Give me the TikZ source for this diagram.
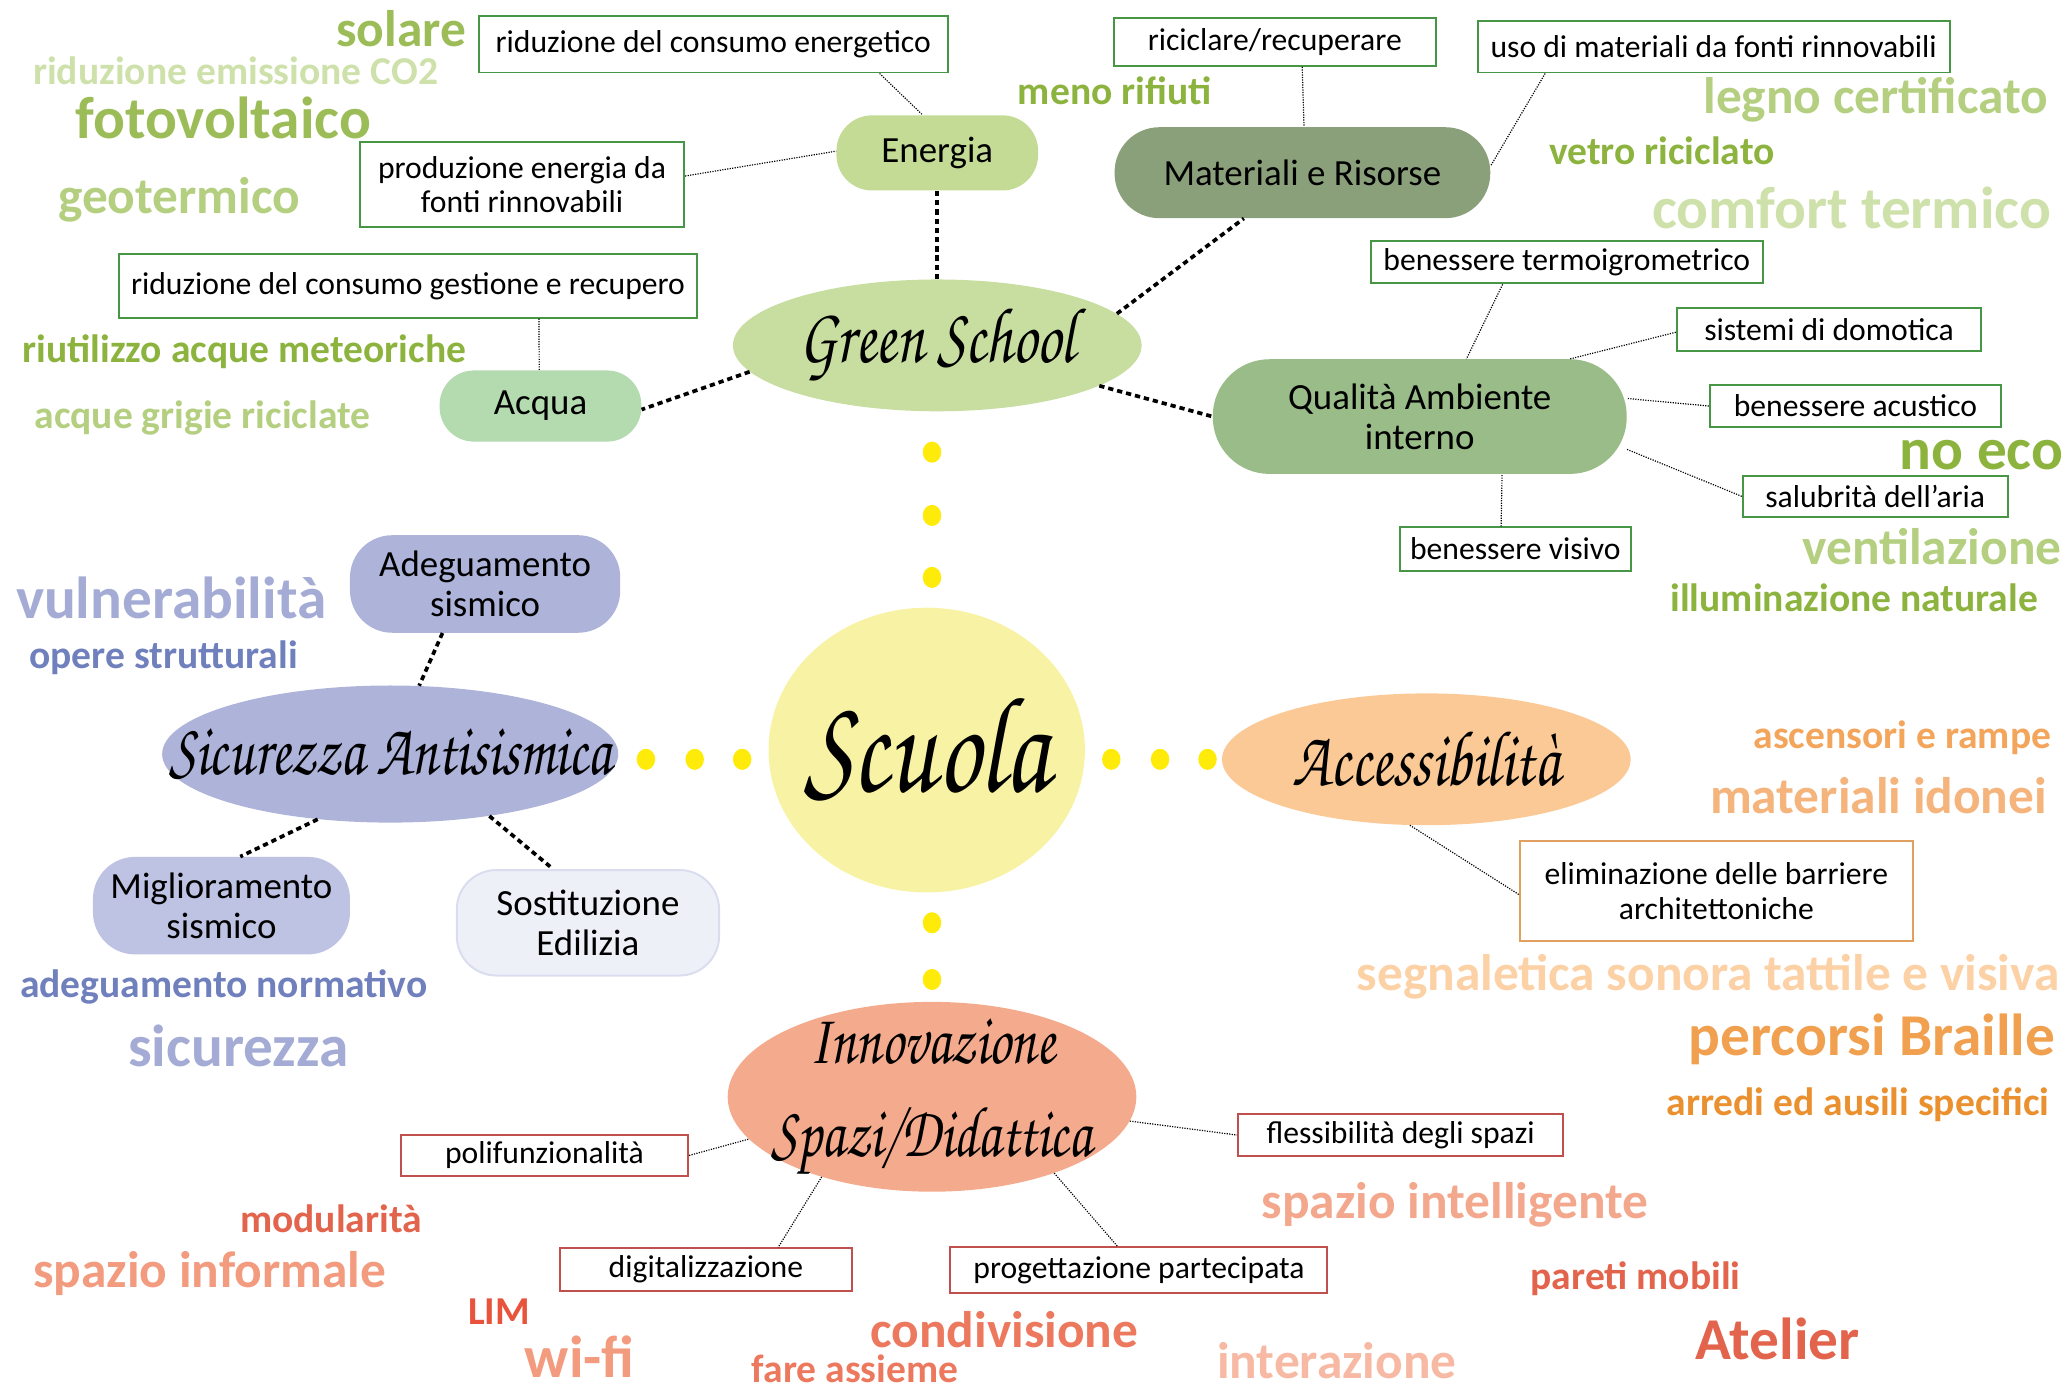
\documentclass[tikz,border=0pt]{standalone}
\usepackage{fontspec}
\setmainfont{Carlito}
\newfontfamily\handfont{TeX Gyre Chorus}
\usepackage{xcolor}
\usepackage{tikz}
\usetikzlibrary{shapes}

\definecolor{boxGreen}{RGB}{70,150,70}
\definecolor{boxOrange}{RGB}{224,160,96}
\definecolor{boxRed}{RGB}{192,80,77}
\definecolor{fillGreenSchool}{RGB}{200,221,160}
\definecolor{fillEnergia}{RGB}{196,219,150}
\definecolor{fillAcqua}{RGB}{180,218,175}
\definecolor{fillMateriali}{RGB}{138,160,122}
\definecolor{fillQualita}{RGB}{153,188,136}
\definecolor{fillScuola}{RGB}{248,243,164}
\definecolor{dotYellow}{RGB}{255,235,10}
\definecolor{fillSicurezza}{RGB}{173,179,217}
\definecolor{fillMiglior}{RGB}{190,194,227}
\definecolor{fillSostit}{RGB}{238,240,248}
\definecolor{lineSostit}{RGB}{218,221,238}
\definecolor{fillAccess}{RGB}{250,201,150}
\definecolor{fillInnov}{RGB}{244,170,140}
\definecolor{kwGreenDark}{RGB}{141,179,63}
\definecolor{kwGreen}{RGB}{155,188,87}
\definecolor{kwGreenLight}{RGB}{180,207,128}
\definecolor{kwGreenPale}{RGB}{206,225,170}
\definecolor{kwBlue}{RGB}{111,128,188}
\definecolor{kwBlueLight}{RGB}{164,172,213}
\definecolor{kwOrange}{RGB}{242,165,91}
\definecolor{kwOrangeLight}{RGB}{244,180,124}
\definecolor{kwOrangePale}{RGB}{251,209,165}
\definecolor{kwOrangeMid}{RGB}{240,160,78}
\definecolor{kwOrangeDark}{RGB}{234,144,46}
\definecolor{kwRed}{RGB}{226,100,76}
\definecolor{kwRedDark}{RGB}{232,83,60}
\definecolor{kwRedMid}{RGB}{236,120,94}
\definecolor{kwSalmon}{RGB}{242,155,126}
\definecolor{kwSalmonLight}{RGB}{243,167,140}
\definecolor{kwSalmonPale}{RGB}{247,185,163}

\tikzstyle{tsBox} = [
    rectangle,
    fill=white,
    line width=1.5pt,
    inner sep=0pt,
    align=center,
    font=\fontsize{24}{26}\selectfont
]
\tikzstyle{tsGreenBox} = [tsBox, draw=boxGreen]
\tikzstyle{tsOrangeBox} = [tsBox, draw=boxOrange]
\tikzstyle{tsRedBox} = [tsBox, draw=boxRed]
\tikzstyle{tsPill} = [
    rectangle,
    inner sep=0pt,
    align=center,
    font=\fontsize{28}{30}\selectfont
]
\tikzstyle{tsOval} = [ellipse, inner sep=0pt]
\tikzstyle{tsScript} = [
    font=\handfont\fontsize{46}{54}\selectfont,
    align=center,
    yscale=1.3
]
\tikzstyle{tsKey} = [inner sep=0pt, anchor=base west]
\tikzstyle{tsKeySmall} = [tsKey, font=\bfseries\fontsize{30}{32}\selectfont]
\tikzstyle{tsKeyMid} = [tsKey, font=\bfseries\fontsize{39}{41}\selectfont]
\tikzstyle{tsKeyBig} = [tsKey, font=\bfseries\fontsize{45}{48}\selectfont]
\tikzstyle{tsThin} = [densely dotted, line width=0.9pt]
\tikzstyle{tsThick} = [dash pattern=on 4pt off 3pt, line width=2.8pt]

\begin{document}
\begin{tikzpicture}[x=1pt, y=-1pt]

        \useasboundingbox (0,0) rectangle (1568,1055);

        % Green School
        \node[tsOval, fill=fillGreenSchool, minimum width=310, minimum height=100,
              label={[tsScript]center:Green School}] (green) at (711,262) {};
        \node[tsPill, fill=fillEnergia, rounded corners=27, minimum width=153, minimum height=57] (energia) at (711,116) {Energia};
        \node[tsPill, fill=fillAcqua, rounded corners=26, minimum width=153, minimum height=54] (acqua) at (410,308) {Acqua};
        \node[tsPill, fill=fillMateriali, rounded corners=34, minimum width=285, minimum height=69] (matRes) at (988,131) {Materiali e Risorse};
        \node[tsPill, fill=fillQualita, rounded corners=43, minimum width=314, minimum height=87] (qualita) at (1077,316) {Qualità Ambiente\\interno};

        \node[tsGreenBox, minimum width=356, minimum height=43] (bRidEn) at (541,33.5) {riduzione del consumo energetico};
        \node[tsGreenBox, minimum width=246, minimum height=64] (bProd) at (396,140) {produzione energia da\\fonti rinnovabili};
        \node[tsGreenBox, minimum width=439, minimum height=48] (bRidGe) at (309.5,217) {riduzione del consumo gestione e recupero};
        \node[tsGreenBox, minimum width=244, minimum height=36] (bRicic) at (967,32) {riciclare/recuperare};
        \node[tsGreenBox, minimum width=358, minimum height=39] (bUso) at (1300,35.5) {uso di materiali da fonti rinnovabili};
        \node[tsGreenBox, minimum width=297, minimum height=32] (bTermo) at (1188.5,199) {benessere termoigrometrico};
        \node[tsGreenBox, minimum width=231, minimum height=32] (bDomo) at (1387.5,250) {sistemi di domotica};
        \node[tsGreenBox, minimum width=221, minimum height=32] (bAcust) at (1407.5,308) {benessere acustico};
        \node[tsGreenBox, minimum width=201, minimum height=31] (bSalub) at (1422.5,376.5) {salubrità dell’aria};
        \node[tsGreenBox, minimum width=175, minimum height=33] (bVisivo) at (1149.5,416.5) {benessere visivo};

        \draw[tsThin] (bRidEn.-10) -- (energia.111);
        \draw[tsThin] (bProd.3) -- (energia.179);
        \draw[tsThin] (bRidGe.-14) -- (acqua.92);
        \draw[tsThin] (bRicic.-42) -- (matRes.88);
        \draw[tsThin] (bUso.189) -- (matRes.2);
        \draw[tsThin] (bTermo.199) -- (qualita.51);
        \draw[tsThin] (bDomo.181) -- (qualita.21);
        \draw[tsThin] (bAcust.180) -- (qualita.5);
        \draw[tsThin] (bSalub.180) -- (qualita.-9);
        \draw[tsThin] (bVisivo.122) -- (qualita.-35);

        \draw[tsThick] (green.north) -- (energia.south);
        \draw[tsThick] (green.10) -- (matRes.218);
        \draw[tsThick] (green.-14) -- (qualita.180);
        \draw[tsThick] (green.188) -- (acqua.-2);

        % Scuola and dots
        \node[tsOval, fill=fillScuola, minimum width=240, minimum height=216,
              label={[tsScript, font=\handfont\fontsize{80}{80}\selectfont]center:Scuola}] (scuola) at (703,569) {};

        \fill[dotYellow] (707,343) ellipse (7 and 8);
        \fill[dotYellow] (707,391) ellipse (7 and 8);
        \fill[dotYellow] (707,438) ellipse (7 and 8);
        \fill[dotYellow] (707,700) ellipse (7 and 8);
        \fill[dotYellow] (707,743) ellipse (7 and 8);
        \fill[dotYellow] (490,576) ellipse (7 and 8);
        \fill[dotYellow] (527,576) ellipse (7 and 8);
        \fill[dotYellow] (563,576) ellipse (7 and 8);
        \fill[dotYellow] (843,576) ellipse (7 and 8);
        \fill[dotYellow] (880,576) ellipse (7 and 8);
        \fill[dotYellow] (916,576) ellipse (7 and 8);

        % Sicurezza Antisismica
        \node[tsOval, fill=fillSicurezza, minimum width=346, minimum height=104,
              label={[tsScript, font=\handfont\fontsize{43}{50}\selectfont]center:Sicurezza Antisismica}] (sicur) at (296,572) {};
        \node[tsPill, fill=fillSicurezza, rounded corners=32, minimum width=205, minimum height=74] (adeg) at (368,443) {Adeguamento\\sismico};
        \node[tsPill, fill=fillMiglior, rounded corners=32, minimum width=195, minimum height=74] (migl) at (168,687) {Miglioramento\\sismico};
        \node[tsPill, fill=fillSostit, draw=lineSostit, line width=1.5pt, rounded corners=30, minimum width=199, minimum height=80] (sost) at (446,700) {Sostituzione\\Edilizia};

        \draw[tsThick] (adeg.229) -- (sicur.67);
        \draw[tsThick] (sicur.222) -- (migl.69);
        \draw[tsThick] (sicur.-32) -- (sost.123);

        % Accessibilita
        \node[tsOval, fill=fillAccess, minimum width=310, minimum height=100,
              label={[tsScript]center:Accessibilità}] (access) at (1082,576) {};
        \node[tsOrangeBox, minimum width=298, minimum height=76] (bElim) at (1302,676) {eliminazione delle barriere\\architettoniche};
        \draw[tsThin] (access.256) -- (bElim.181);

        % Innovazione Spazi/Didattica
        \node[tsOval, fill=fillInnov, minimum width=310, minimum height=144,
              label={[tsScript, font=\handfont\fontsize{42}{54}\selectfont]center:Innovazione\\Spazi/Didattica}] (innov) at (707,832) {};
        \node[tsRedBox, minimum width=218, minimum height=31] (bPolif) at (413,876.5) {polifunzionalità};
        \node[tsRedBox, minimum width=247, minimum height=32] (bFless) at (1062.5,861) {flessibilità degli spazi};
        \node[tsRedBox, minimum width=221, minimum height=32] (bDigit) at (535.5,963) {digitalizzazione};
        \node[tsRedBox, minimum width=286, minimum height=35] (bProg) at (864,963.5) {progettazione partecipata};

        \draw[tsThin] (bPolif.0) -- (innov.193);
        \draw[tsThin] (innov.-7) -- (bFless.180);
        \draw[tsThin] (innov.216) -- (bDigit.17);
        \draw[tsThin] (innov.-32) -- (bProg.132);

        % keywords
        \node[tsKeyMid, text=kwGreen] (kwSolare) at (255,35) {solare};
        \node[tsKeySmall, text=kwGreenPale] (kwEmiss) at (25,64) {riduzione emissione CO2};
        \node[tsKeyBig, text=kwGreen] (kwFotov) at (57,105) {fotovoltaico};
        \node[tsKeyMid, text=kwGreenLight] (kwGeot) at (44,162) {geotermico};
        \node[tsKeySmall, text=kwGreenDark] (kwRiut) at (17,275) {riutilizzo acque meteoriche};
        \node[tsKeySmall, text=kwGreenLight] (kwGrigie) at (26,325) {acque grigie riciclate};
        \node[tsKeySmall, text=kwGreenDark] (kwRifiuti) at (772,79) {meno rifiuti};
        \node[tsKeyMid, text=kwGreenLight] (kwLegno) at (1292,86) {legno certificato};
        \node[tsKeySmall, text=kwGreenDark] (kwVetro) at (1175,125) {vetro riciclato};
        \node[tsKeyBig, text=kwGreenPale] (kwComfort) at (1253,173) {comfort termico};
        \node[tsKeyBig, text=kwGreenDark] (kwNoEco) at (1441,356) {no eco};
        \node[tsKeyMid, text=kwGreenLight] (kwVentil) at (1367,428) {ventilazione};
        \node[tsKeySmall, text=kwGreenDark] (kwIllum) at (1267,464) {illuminazione naturale};

        \node[tsKeyBig, text=kwBlueLight] (kwVulner) at (12,469) {vulnerabilità};
        \node[tsKeySmall, text=kwBlue] (kwOpere) at (22,507) {opere strutturali};
        \node[tsKeySmall, text=kwBlue] (kwNormat) at (15,757) {adeguamento normativo};
        \node[tsKeyBig, text=kwBlueLight] (kwSicur) at (97,809) {sicurezza};

        \node[tsKeySmall, text=kwOrange] (kwAscens) at (1330,568) {ascensori e rampe};
        \node[tsKeyMid, text=kwOrangeLight] (kwIdonei) at (1297,617) {materiali idonei};
        \node[tsKeyMid, text=kwOrangePale] (kwSegnal) at (1029,751) {segnaletica sonora tattile e visiva};
        \node[tsKeyBig, text=kwOrangeMid] (kwBraille) at (1281,801) {percorsi Braille};
        \node[tsKeySmall, text=kwOrangeDark] (kwArredi) at (1264,846) {arredi ed ausili specifici};

        \node[tsKeySmall, text=kwRed] (kwModul) at (182,935) {modularità};
        \node[tsKeyMid, text=kwSalmon] (kwInform) at (25,977) {spazio informale};
        \node[tsKeySmall, text=kwRedDark] (kwLim) at (355,1005) {LIM};
        \node[tsKeyBig, text=kwSalmon] (kwWifi) at (398,1045) {wi-fi};
        \node[tsKeyMid, text=kwRedMid] (kwCondiv) at (660,1022) {condivisione};
        \node[tsKeySmall, text=kwRedMid] (kwAssieme) at (570,1049) {fare assieme};
        \node[tsKeyMid, text=kwSalmonPale] (kwInteraz) at (923,1046) {interazione};
        \node[tsKeyMid, text=kwSalmonLight] (kwIntell) at (957,924) {spazio intelligente};
        \node[tsKeySmall, text=kwRed] (kwPareti) at (1161,978) {pareti mobili};
        \node[tsKeyBig, text=kwRed] (kwAtelier) at (1286,1031) {Atelier};

\end{tikzpicture}
\end{document}
